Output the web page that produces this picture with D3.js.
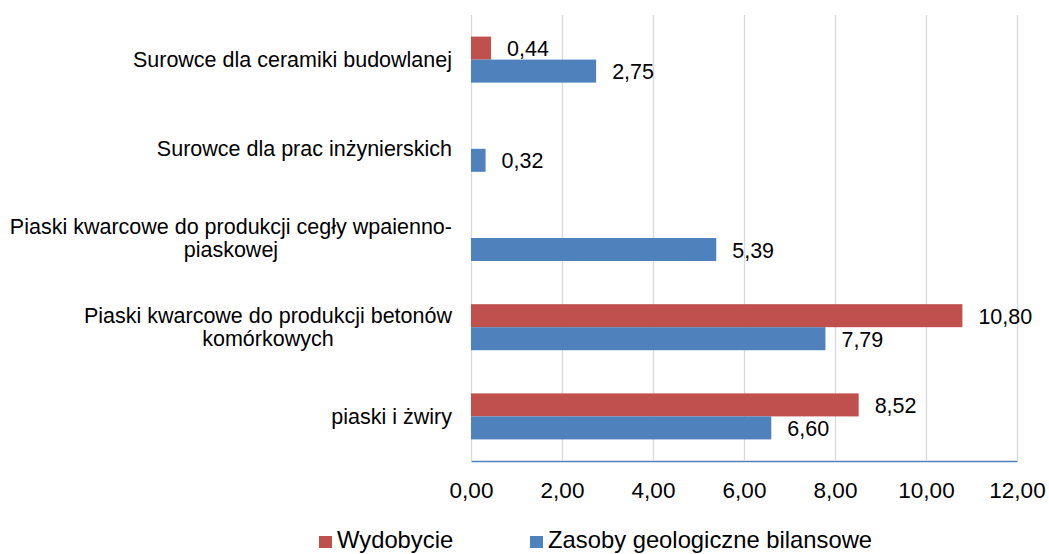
<!DOCTYPE html>
<html>
<head>
<meta charset="utf-8">
<script src="https://cdn.jsdelivr.net/npm/d3@7"></script>
<style>
  body { margin: 0; background: #fff; }
  text { font-family: "Liberation Sans", Arial, sans-serif; fill: #000; }
</style>
</head>
<body>
<div id="main-div"></div>
<script>
// chart data (top to bottom as drawn)
let categories = [
  "Surowce dla ceramiki budowlanej",
  "Surowce dla prac inżynierskich",
  "Piaski kwarcowe do produkcji cegły wpaienno-piaskowej",
  "Piaski kwarcowe do produkcji betonów komórkowych",
  "piaski i żwiry"
]
let seriesNames = ["Wydobycie", "Zasoby geologiczne bilansowe"]
let wydobycie = [0.44, null, null, 10.80, 8.52]
let zasoby = [2.75, 0.32, 5.39, 7.79, 6.60]
let xTicks = [0, 2, 4, 6, 8, 10, 12]
let colors = ["#C0504D", "#4F81BD"]

let width = 1049
let height = 554
let margin = {top: 15, right: 32, bottom: 93, left: 471}

let plCode = d3.formatLocale({decimal: ",", thousands: " ", grouping: [3], currency: ["", " zł"]})
let fmt = plCode.format(".2f")

let rows = categories.map((c, i) => ({cat: c, values: [wydobycie[i], zasoby[i]]}))

let svg = d3.select("#main-div")
  .append("svg")
  .attr("width", width)
  .attr("height", height)

let x = d3.scaleLinear()
  .domain([0, 12])
  .range([margin.left, width - margin.right])

let y = d3.scaleBand()
  .domain(categories)
  .range([margin.top, height - margin.bottom])
  .paddingInner(0.484)
  .paddingOuter(0.242)

let ySub = d3.scaleBand()
  .domain(seriesNames)
  .range([0, y.bandwidth()])

// gridlines + axis (behind bars)
let axisG = svg.append("g")
  .attr("transform", `translate(0,${height - margin.bottom})`)
  .call(d3.axisBottom(x)
    .tickValues(xTicks)
    .tickSizeInner(-(height - margin.bottom - margin.top))
    .tickSizeOuter(0)
    .tickPadding(21)
    .tickFormat(fmt))

axisG.selectAll(".tick line").attr("stroke", "#d9d9d9").attr("stroke-width", 1.3)
axisG.select(".domain").attr("stroke", "#4F81BD").attr("stroke-width", 1.6)
axisG.selectAll(".tick text")
  .style("font-size", "22.5px")
  .attr("fill", "#000")
axisG.attr("font-family", null)

// bars
let groups = svg.append("g")
  .selectAll("g")
  .data(rows)
  .join("g")
  .attr("transform", d => `translate(0,${y(d.cat)})`)

let cells = groups.selectAll("g")
  .data(d => d.values.map((v, k) => ({key: seriesNames[k], k: k, value: v})).filter(e => e.value != null))
  .join("g")

cells.append("rect")
  .attr("x", x(0))
  .attr("y", d => ySub(d.key))
  .attr("width", d => x(d.value) - x(0))
  .attr("height", ySub.bandwidth())
  .attr("fill", d => colors[d.k])

cells.append("text")
  .attr("x", d => x(d.value) + 16)
  .attr("y", d => ySub(d.key) + ySub.bandwidth() / 2 + 8)
  .style("font-size", "21.5px")
  .text(d => fmt(d.value))

// category labels, wrapped and centred as a block that is right aligned
let labelRight = 452
let maxLine = 450
let catSize = "21.5px"

function wrapWords(str) {
  let tokens = []
  str.split(" ").forEach(w => {
    let parts = w.split(/(?<=-)/)
    parts.forEach((p, i) => tokens.push({t: p, space: i == 0}))
  })
  return tokens
}

let measure = svg.append("text").style("font-size", catSize)
function textW(s) {
  measure.text(s)
  return measure.node().getComputedTextLength()
}

categories.forEach(c => {
  let tokens = wrapWords(c)
  let lines = []
  let cur = ""
  tokens.forEach(tok => {
    let next = cur == "" ? tok.t : (tok.space ? cur + " " + tok.t : cur + tok.t)
    if (cur != "" && textW(next) > maxLine) {
      lines.push(cur)
      cur = tok.t
    } else {
      cur = next
    }
  })
  lines.push(cur)

  let blockW = d3.max(lines, l => textW(l))
  let cy = y(c) + y.bandwidth() / 2
  let lineH = 23.5
  let t = svg.append("text")
    .attr("text-anchor", "middle")
    .style("font-size", catSize)
  lines.forEach((l, i) => {
    t.append("tspan")
      .attr("x", labelRight - blockW / 2)
      .attr("y", cy + 7.5 + (i - (lines.length - 1) / 2) * lineH)
      .text(l)
  })
})
measure.remove()

// legend
let legendItems = [
  {name: seriesNames[0], color: colors[0], x: 319},
  {name: seriesNames[1], color: colors[1], x: 530}
]
let legend = svg.append("g")
  .selectAll("g")
  .data(legendItems)
  .join("g")
  .attr("transform", d => `translate(${d.x},536)`)

legend.append("rect")
  .attr("width", 13)
  .attr("height", 12)
  .attr("fill", d => d.color)

legend.append("text")
  .attr("x", 18)
  .attr("y", 11.5)
  .style("font-size", "23.8px")
  .text(d => d.name)
</script>
</body>
</html>
